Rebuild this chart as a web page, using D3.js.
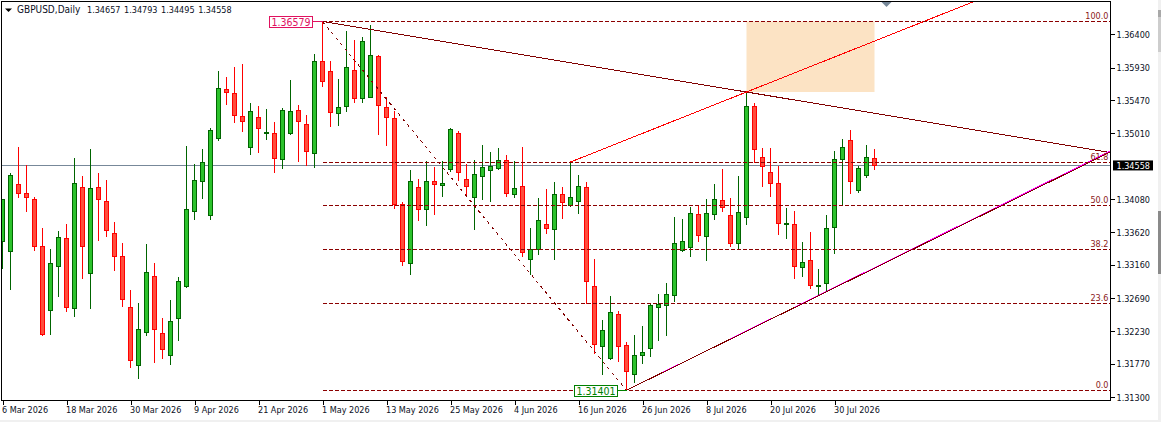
<!DOCTYPE html>
<html>
<head>
<meta charset="utf-8">
<script src="https://cdn.jsdelivr.net/npm/d3@7"></script>
<style>
  html, body { margin: 0; padding: 0; background: #fff; overflow: hidden; }
  svg { display: block; }
  text { font-family: "DejaVu Sans Condensed", "DejaVu Sans", sans-serif; font-size: 9px; fill: #0a0f1e; }
  .axis .domain { display: none; }
  .axis line { stroke: #000; shape-rendering: crispEdges; }
  .fib { stroke: #8b0000; stroke-dasharray: 4,2; shape-rendering: crispEdges; }
  .fib-label { fill: #8b1a1a; text-anchor: end; }
</style>
</head>
<body>
<svg id="chart" width="1161" height="422"></svg>
<script>
const opens = [
  1.33496, 1.33356, 1.34297, 1.34170, 1.34086, 1.33426, 1.32527, 1.33145, 1.33538, 1.32555,
  1.34255, 1.33047, 1.34255, 1.34058, 1.33609, 1.33286, 1.32569, 1.31754, 1.32218, 1.33005,
  1.32204, 1.31895, 1.32415, 1.32864, 1.33918, 1.34339, 1.33861, 1.34943, 1.35631, 1.35575,
  1.35252, 1.34816, 1.35238, 1.35006, 1.35013, 1.34648, 1.35013, 1.35336, 1.35139, 1.34732,
  1.36024, 1.35884, 1.35294, 1.35392, 1.35898, 1.35491, 1.35505, 1.36081, 1.35378, 1.35224,
  1.34016, 1.33187, 1.34255, 1.33946, 1.34339, 1.34283, 1.34507, 1.35013, 1.34367, 1.34114,
  1.34409, 1.34493, 1.34521, 1.34634, 1.34156, 1.34269, 1.33243, 1.33384, 1.33735, 1.33665,
  1.34156, 1.34002, 1.34058, 1.34255, 1.32864, 1.32022, 1.31853, 1.32471, 1.32035, 1.31628,
  1.31895, 1.31993, 1.32569, 1.32597, 1.32738, 1.33370, 1.33412, 1.33875, 1.33566, 1.33875,
  1.34072, 1.33861, 1.33468, 1.33833, 1.35392, 1.34676, 1.34465, 1.34311, 1.33735, 1.33735,
  1.33131, 1.33229, 1.32864, 1.32906, 1.33693, 1.34648, 1.34915, 1.34212, 1.34423, 1.34657
];
const highs = [
  1.34100, 1.34465, 1.34830, 1.34578, 1.34128, 1.33693, 1.33398, 1.33651, 1.33749, 1.34676,
  1.34423, 1.34802, 1.34465, 1.34367, 1.33777, 1.33482, 1.32822, 1.32639, 1.33468, 1.33201,
  1.32429, 1.32682, 1.33005, 1.34844, 1.34592, 1.34802, 1.35097, 1.35898, 1.35800, 1.35954,
  1.35996, 1.35448, 1.35406, 1.35364, 1.35182, 1.35378, 1.35771, 1.35420, 1.35280, 1.36123,
  1.36579, 1.36038, 1.35785, 1.36446, 1.36333, 1.36375, 1.36530, 1.36109, 1.35519, 1.35336,
  1.34058, 1.34507, 1.34381, 1.34634, 1.34550, 1.34634, 1.35097, 1.35055, 1.34592, 1.34648,
  1.34858, 1.34760, 1.34816, 1.34718, 1.34634, 1.34830, 1.33693, 1.34114, 1.34241, 1.34339,
  1.34269, 1.34606, 1.34437, 1.34339, 1.33257, 1.32401, 1.32738, 1.32527, 1.32092, 1.32190,
  1.32316, 1.32625, 1.32766, 1.32920, 1.33847, 1.33819, 1.33988, 1.34016, 1.34100, 1.34311,
  1.34521, 1.34114, 1.34423, 1.35589, 1.35448, 1.34816, 1.34816, 1.34564, 1.33974, 1.33932,
  1.33496, 1.33637, 1.33117, 1.33875, 1.34774, 1.34943, 1.35069, 1.34564, 1.34858, 1.34793
];
const lows = [
  1.33117, 1.32822, 1.34114, 1.33918, 1.33370, 1.32176, 1.32190, 1.32724, 1.32513, 1.32443,
  1.32976, 1.32555, 1.33510, 1.33566, 1.33089, 1.32583, 1.31726, 1.31572, 1.32176, 1.31797,
  1.31853, 1.31769, 1.32106, 1.32850, 1.33805, 1.34100, 1.33805, 1.34915, 1.35420, 1.35154,
  1.35041, 1.34718, 1.34746, 1.34929, 1.34465, 1.34521, 1.34999, 1.34620, 1.34564, 1.34535,
  1.35673, 1.35111, 1.35125, 1.35322, 1.35448, 1.35448, 1.35505, 1.34999, 1.34844, 1.33960,
  1.33159, 1.33033, 1.33791, 1.33721, 1.33875, 1.34128, 1.34479, 1.34353, 1.34156, 1.33665,
  1.34086, 1.34058, 1.34507, 1.34128, 1.34114, 1.33286, 1.33033, 1.33314, 1.33609, 1.33243,
  1.33819, 1.33988, 1.33889, 1.32625, 1.31923, 1.31628, 1.31839, 1.31811, 1.31401, 1.31516,
  1.31783, 1.31881, 1.32106, 1.32176, 1.32654, 1.33356, 1.33286, 1.33496, 1.33229, 1.33805,
  1.33918, 1.33426, 1.33398, 1.33735, 1.34606, 1.34269, 1.34128, 1.33595, 1.33538, 1.32976,
  1.33005, 1.32836, 1.32738, 1.32794, 1.33328, 1.34002, 1.34170, 1.34184, 1.34395, 1.34495
];
const closes = [
  1.34086, 1.34423, 1.34170, 1.34114, 1.33426, 1.32190, 1.33187, 1.33552, 1.32569, 1.34311,
  1.33426, 1.34241, 1.34086, 1.33651, 1.33286, 1.32682, 1.31825, 1.32260, 1.33061, 1.32260,
  1.31979, 1.32373, 1.32934, 1.33946, 1.34353, 1.34606, 1.35055, 1.35645, 1.35589, 1.35266,
  1.35168, 1.35322, 1.35083, 1.35020, 1.34662, 1.35336, 1.35322, 1.35168, 1.34760, 1.36024,
  1.35743, 1.35308, 1.35378, 1.35940, 1.35491, 1.36305, 1.36095, 1.35406, 1.35238, 1.34016,
  1.33215, 1.34339, 1.33946, 1.34339, 1.34297, 1.34311, 1.35069, 1.34465, 1.34269, 1.34437,
  1.34535, 1.34550, 1.34634, 1.34170, 1.34241, 1.33342, 1.33384, 1.33791, 1.33679, 1.34156,
  1.34044, 1.34114, 1.34269, 1.32934, 1.32050, 1.32246, 1.32499, 1.32022, 1.31670, 1.31895,
  1.31937, 1.32597, 1.32611, 1.32752, 1.33468, 1.33496, 1.33889, 1.33580, 1.33889, 1.34086,
  1.33974, 1.33468, 1.33903, 1.35392, 1.34788, 1.34550, 1.34311, 1.33749, 1.33749, 1.33145,
  1.33201, 1.32878, 1.32878, 1.33679, 1.34648, 1.34816, 1.34339, 1.34521, 1.34676, 1.34558
];

const dateTicks = [0, 8, 16, 24, 32, 40, 48, 56, 64, 72, 80, 88, 96, 104];
const dateLabels = ['6 Mar 2026', '18 Mar 2026', '30 Mar 2026', '9 Apr 2026', '21 Apr 2026', '1 May 2026',
  '13 May 2026', '25 May 2026', '4 Jun 2026', '16 Jun 2026', '26 Jun 2026', '8 Jul 2026', '20 Jul 2026', '30 Jul 2026'];
const priceTicks = [1.364, 1.3593, 1.3547, 1.3501, 1.3408, 1.3362, 1.3316, 1.3269, 1.3223, 1.3177, 1.313];

const fibRatios = ['100.0', '61.8', '50.0', '38.2', '23.6', '0.0'];
const fibPrices = [1.36579, 1.34601, 1.33990, 1.33379, 1.32623, 1.31401];
const fibStart = 40;

const symbol = 'GBPUSD,Daily';
const lastPrice = 1.34558;
const swingHigh = {index: 40, price: 1.36579, label: '1.36579'};
const swingLow = {index: 78, price: 1.31401, label: '1.31401'};

// two point rays, [index, price] pairs, they run on to the edge of the plot
const maroonRay = [[40, 1.36579], [93, 1.35589]];
const redRay = [[71, 1.34606], [93, 1.35589]];
const magentaRay = [[78, 1.31401], [103, 1.32790]];
const supportRay = [[78, 1.31401], [103, 1.32784]];
const zone = {from: 93, to: 109, top: 1.36579, bottom: 1.35589};

const plot = {left: 1.5, top: 1.5, right: 1110.5, bottom: 400.5};

const x = d3.scaleLinear().domain([0, 1]).range([2.5, 10.5]);
const y = d3.scaleLinear().domain([1.36579, 1.31401]).range([21.5, 390.3]);
const snap = v => Math.round(v - 0.5) + 0.5;

const svg = d3.select('#chart');

function renderChrome() {
    svg.append('rect').attr('x', 1158).attr('y', 0).attr('width', 3).attr('height', 422).attr('fill', '#f0f0f0');
    svg.append('rect').attr('x', 1158).attr('y', 10).attr('width', 3).attr('height', 7).attr('fill', '#a8a8a8');
    svg.append('rect').attr('x', 1158).attr('y', 17).attr('width', 3).attr('height', 35).attr('fill', '#cdcdcd');
    svg.append('rect').attr('x', 1158).attr('y', 211).attr('width', 3).attr('height', 63).attr('fill', '#8a8a8a');
    svg.append('rect').attr('x', 0).attr('y', 420).attr('width', 1161).attr('height', 2).attr('fill', '#f0f0f0');

    svg.append('defs').append('clipPath').attr('id', 'plot-clip')
        .append('rect')
        .attr('x', plot.left).attr('y', plot.top)
        .attr('width', plot.right - plot.left).attr('height', plot.bottom - plot.top);
}

function renderAxes() {
    svg.append('g')
        .attr('class', 'axis axis-x')
        .attr('transform', `translate(0,${plot.bottom})`)
        .call(d3.axisBottom(x).tickValues(dateTicks).tickSize(4).tickFormat((d, i) => dateLabels[i]))
        .selectAll('text')
        .attr('text-anchor', 'start')
        .attr('x', -1)
        .attr('y', 6.5)
        .attr('dy', '0.71em');

    svg.append('g')
        .attr('class', 'axis')
        .attr('transform', `translate(${plot.right},0)`)
        .call(d3.axisRight(y).tickValues(priceTicks).tickSize(4).tickFormat(d => d.toFixed(5)))
        .selectAll('text')
        .attr('x', 6);
}

function renderBackdrop(layer) {
    layer.append('rect')
        .attr('x', x(zone.from))
        .attr('y', y(zone.top))
        .attr('width', x(zone.to) - x(zone.from))
        .attr('height', y(zone.bottom) - y(zone.top))
        .attr('fill', '#fce3c4');

    layer.append('line')
        .attr('x1', plot.left).attr('x2', plot.right)
        .attr('y1', snap(y(lastPrice))).attr('y2', snap(y(lastPrice)))
        .attr('stroke', '#778899')
        .attr('shape-rendering', 'crispEdges');
}

function renderCandles(layer) {
    const candles = layer.selectAll('g.candle')
        .data(opens.map((open, i) => ({i, open, high: highs[i], low: lows[i], close: closes[i]})))
        .join('g')
        .attr('class', 'candle')
        .attr('shape-rendering', 'crispEdges');

    candles.append('line')
        .attr('x1', d => x(d.i)).attr('x2', d => x(d.i))
        .attr('y1', d => snap(y(d.high))).attr('y2', d => snap(y(d.low)))
        .attr('stroke', d => d.close >= d.open ? '#006400' : '#ff0000');

    candles.append('rect')
        .attr('x', d => x(d.i) - 2)
        .attr('width', 4)
        .attr('y', d => snap(y(Math.max(d.open, d.close))))
        .attr('height', d => Math.max(1, snap(y(Math.min(d.open, d.close))) - snap(y(Math.max(d.open, d.close)))))
        .attr('fill', d => d.close >= d.open ? '#2cc22c' : '#ff4d3d')
        .attr('stroke', d => d.close >= d.open ? '#006400' : '#ff0000');
}

function renderRay(layer, points, color) {
    const [[i0, p0], [i1, p1]] = points;
    const iEnd = x.invert(plot.right);
    const pEnd = p0 + (p1 - p0) * (iEnd - i0) / (i1 - i0);
    layer.append('line')
        .attr('x1', x(i0)).attr('y1', y(p0))
        .attr('x2', x(iEnd)).attr('y2', y(pEnd))
        .attr('stroke', color)
        .attr('shape-rendering', 'crispEdges');
}

function renderFibo(layer) {
    layer.append('line')
        .attr('x1', x(swingHigh.index)).attr('y1', y(swingHigh.price))
        .attr('x2', x(swingLow.index)).attr('y2', y(swingLow.price))
        .attr('stroke', '#800000')
        .attr('stroke-dasharray', '3,4')
        .attr('shape-rendering', 'crispEdges');

    layer.selectAll('line.fib')
        .data(fibPrices)
        .join('line')
        .attr('class', 'fib')
        .attr('x1', x(fibStart)).attr('x2', plot.right)
        .attr('y1', d => snap(y(d))).attr('y2', d => snap(y(d)));

    svg.selectAll('text.fib-label')
        .data(fibPrices)
        .join('text')
        .attr('class', 'fib-label')
        .attr('x', plot.right - 2)
        .attr('y', d => y(d) - 2.5)
        .text((d, i) => fibRatios[i]);
}

function renderPriceTag(point, color, side) {
    const g = svg.append('g');
    const label = g.append('text').style('fill', color).style('font-size', '10.5px').text(point.label);
    const width = Math.round(label.node().getComputedTextLength() + 4);
    const px = x(point.index);
    const py = snap(y(point.price));
    const left = side === 'left' ? snap(px - 10 - width) : snap(px - 52);
    label.attr('x', left + 2).attr('y', py + 4);
    g.insert('rect', 'text')
        .attr('x', left).attr('y', py - 5.5)
        .attr('width', width).attr('height', 11)
        .attr('fill', '#fff')
        .attr('stroke', color)
        .attr('shape-rendering', 'crispEdges');
    g.insert('line', 'rect')
        .attr('x1', left + width).attr('x2', px)
        .attr('y1', py).attr('y2', py)
        .attr('stroke', color)
        .attr('shape-rendering', 'crispEdges');
}

function renderLegend() {
    svg.append('path').attr('d', 'M5,8.5H12L8.5,12Z').attr('fill', '#000');
    svg.append('text').attr('x', 17).attr('y', 13).style('font-size', '10px').text(symbol);
    svg.append('text').attr('x', 87).attr('y', 13)
        .style('word-spacing', '1px')
        .text([opens, highs, lows, closes].map(s => s[s.length - 1].toFixed(5)).join(' '));
    // chart shift marker on the top edge
    svg.append('path').attr('d', 'M881.5,2H891.5L886.5,7Z').attr('fill', '#778899');
}

function renderLastPrice() {
    const py = y(lastPrice);
    svg.append('rect')
        .attr('x', 1113).attr('y', py - 5)
        .attr('width', 40).attr('height', 10)
        .attr('fill', '#000');
    svg.append('text')
        .attr('x', 1116.5).attr('y', py + 3.5)
        .style('fill', '#fff')
        .text(lastPrice.toFixed(5));
}

renderChrome();

const clipped = svg.append('g').attr('clip-path', 'url(#plot-clip)');
renderBackdrop(clipped);
renderCandles(clipped);
renderRay(clipped, maroonRay, '#800000');
renderRay(clipped, redRay, '#ff0000');
renderRay(clipped, magentaRay, '#ff00ff');
renderRay(clipped, supportRay, '#800000');
renderFibo(clipped);

svg.append('rect')
    .attr('x', plot.left).attr('y', plot.top)
    .attr('width', plot.right - plot.left).attr('height', plot.bottom - plot.top)
    .attr('fill', 'none')
    .attr('stroke', '#000')
    .attr('shape-rendering', 'crispEdges');

renderAxes();
renderPriceTag(swingHigh, '#e0115f', 'left');
renderPriceTag(swingLow, '#008000', 'low');
renderLegend();
renderLastPrice();
</script>
</body>
</html>
